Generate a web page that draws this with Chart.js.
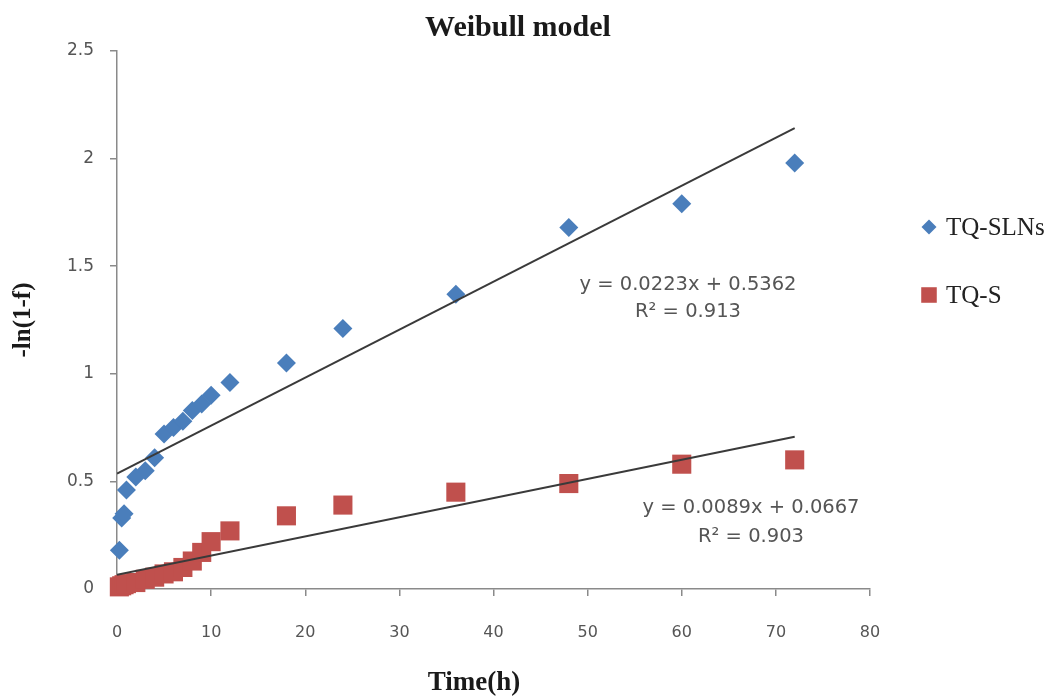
<!DOCTYPE html>
<html>
<head>
<meta charset="utf-8">
<title>Weibull model</title>
<script src="https://cdn.jsdelivr.net/npm/chart.js@4.4.0/dist/chart.umd.min.js"></script>
<style>
  html, body { margin: 0; padding: 0; background: #fff; }
  #wrap { width: 1055px; height: 696px; }
</style>
</head>
<body>
<div id="wrap"><canvas id="weibull" width="1055" height="696"></canvas></div>
<script>
// sampling times (h)
const timeH = [0.25, 0.5, 0.75, 1, 2, 3, 4, 5, 6, 7, 8, 9, 10, 12, 18, 24, 36, 48, 60, 72];
// -ln(1-f) per formulation
const slnValues = [0.18, 0.33, 0.35, 0.46, 0.52, 0.55, 0.61, 0.72, 0.75, 0.78, 0.83, 0.86, 0.90, 0.96, 1.05, 1.21, 1.37, 1.68, 1.79, 1.98];
const suspValues = [0.01, 0.015, 0.02, 0.025, 0.03, 0.045, 0.055, 0.07, 0.08, 0.10, 0.13, 0.17, 0.22, 0.27, 0.34, 0.39, 0.45, 0.49, 0.58, 0.60];
const seriesNames = ["TQ-SLNs", "TQ-S"];
// linear trendlines y = a*x + b
const fitSlope = [0.0223, 0.0089];
const fitIntercept = [0.5362, 0.0667];
const fitR2 = ["0.913", "0.903"];
// axis ticks
const xTickValues = [0, 10, 20, 30, 40, 50, 60, 70, 80];
const yTickValues = [0, 0.5, 1, 1.5, 2, 2.5];

const BLUE = "#4a7ebb";
const RED = "#c0504d";
const AXIS = "#8a8a8a";
const TICK_TXT = "#555555";
const SANS = "'DejaVu Sans', Verdana, sans-serif";
const SERIF = "'Liberation Serif', 'Times New Roman', serif";

const tMax = Math.max(...timeH);
function fitLine(i) {
  return [
    { x: 0, y: fitIntercept[i] },
    { x: tMax, y: fitSlope[i] * tMax + fitIntercept[i] }
  ];
}

// title, x axis caption, legend and trendline equations
const chartText = {
  id: "chartText",
  afterDraw(chart) {
    const ctx = chart.ctx;
    ctx.save();

    ctx.fillStyle = "#1a1a1a";
    ctx.textAlign = "center";
    ctx.textBaseline = "middle";
    ctx.font = "bold 30px " + SERIF;
    ctx.fillText("Weibull model", 518, 28);
    ctx.font = "bold 27px " + SERIF;
    ctx.fillText("Time(h)", 474, 683);

    // legend
    const legendY = [227, 295];
    [0, 1].forEach(function (i) {
      const ds = chart.data.datasets[i];
      ctx.fillStyle = ds.backgroundColor;
      Chart.helpers.drawPoint(ctx, {
        pointStyle: ds.pointStyle,
        radius: i === 0 ? 7.5 : 11,
        borderWidth: 0
      }, 929, legendY[i]);
      ctx.fillStyle = "#222";
      ctx.font = "25px " + SERIF;
      ctx.textAlign = "left";
      ctx.textBaseline = "middle";
      ctx.fillText(seriesNames[i], 946, legendY[i] + 1);
    });

    // equations
    const eqPos = [[688, 285, 312], [751, 508, 537]];
    ctx.fillStyle = TICK_TXT;
    ctx.font = "19.5px " + SANS;
    ctx.textAlign = "center";
    eqPos.forEach(function (p, i) {
      ctx.fillText("y = " + fitSlope[i] + "x + " + fitIntercept[i], p[0], p[1]);
      ctx.fillText("R\u00b2 = " + fitR2[i], p[0], p[2]);
    });
    ctx.restore();
  }
};

new Chart(document.getElementById("weibull"), {
  type: "scatter",
  data: {
    datasets: [
      {
        label: seriesNames[0],
        data: timeH.map((t, i) => ({ x: t, y: slnValues[i] })),
        pointStyle: "rectRot",
        pointRadius: 9.5,
        backgroundColor: BLUE,
        borderColor: BLUE,
        borderWidth: 0,
        clip: false,
        order: 2
      },
      {
        label: seriesNames[1],
        data: timeH.map((t, i) => ({ x: t, y: suspValues[i] })),
        pointStyle: "rect",
        pointRadius: 13.5,
        backgroundColor: RED,
        borderColor: RED,
        borderWidth: 0,
        clip: false,
        order: 1
      },
      {
        label: "fit SLNs",
        data: fitLine(0),
        showLine: true,
        pointRadius: 0,
        borderColor: "#3a3a3a",
        borderWidth: 2,
        order: 0
      },
      {
        label: "fit S",
        data: fitLine(1),
        showLine: true,
        pointRadius: 0,
        borderColor: "#3a3a3a",
        borderWidth: 2,
        order: 0
      }
    ]
  },
  options: {
    responsive: false,
    animation: false,
    layout: { padding: { top: 51, right: 185, bottom: 0, left: 0 } },
    plugins: {
      legend: { display: false },
      title: { display: false },
      tooltip: { enabled: false }
    },
    scales: {
      x: {
        type: "linear",
        min: 0,
        max: 80,
        afterBuildTicks: (s) => { s.ticks = xTickValues.map((v) => ({ value: v })); },
        afterFit: (s) => { s.height = 107; },
        border: { color: AXIS, width: 1.5 },
        grid: { drawOnChartArea: false, tickLength: 7, color: AXIS, lineWidth: 1.5 },
        ticks: { font: { family: SANS, size: 16 }, color: TICK_TXT, padding: 27, maxRotation: 0 }
      },
      y: {
        min: 0,
        max: 2.5,
        afterBuildTicks: (s) => { s.ticks = yTickValues.map((v) => ({ value: v })); },
        afterFit: (s) => { s.width = 117; },
        border: { color: AXIS, width: 1.5 },
        grid: { drawOnChartArea: false, tickLength: 7, color: AXIS, lineWidth: 1.5 },
        ticks: {
          font: { family: SANS, size: 17 },
          color: TICK_TXT,
          padding: 16,
          callback: (v) => String(v)
        },
        title: {
          display: true,
          text: "-ln(1-f)",
          font: { family: SERIF, size: 25, weight: "bold" },
          color: "#1a1a1a",
          padding: { top: 9, bottom: 0 }
        }
      }
    }
  },
  plugins: [chartText]
});
</script>
</body>
</html>
